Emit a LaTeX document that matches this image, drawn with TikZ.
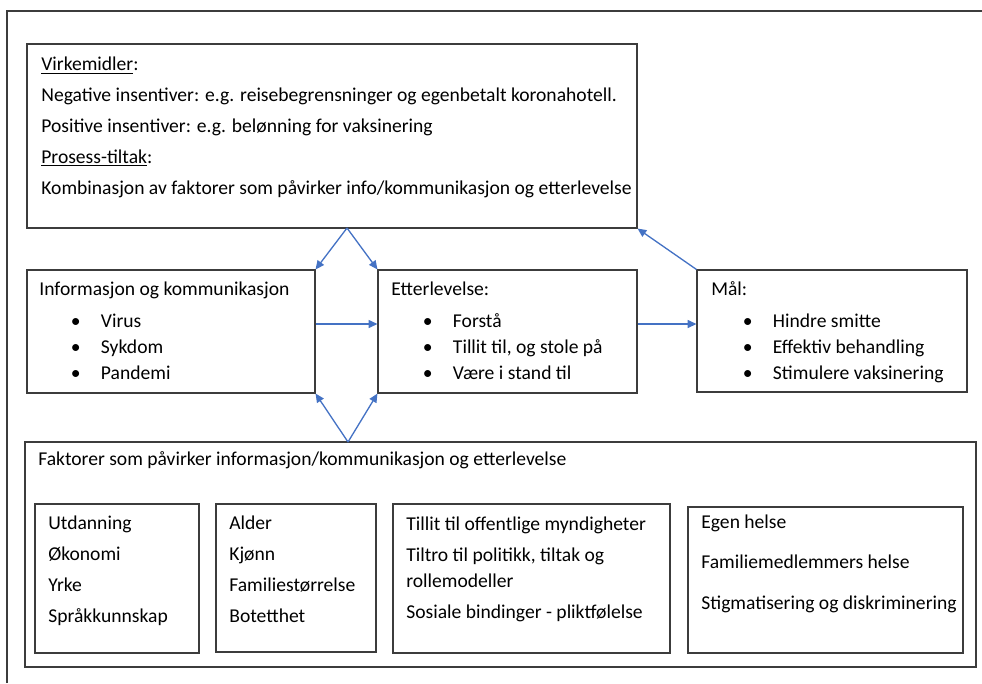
\documentclass[tikz,border=0pt]{standalone}
\usepackage{fontspec}
\setmainfont{Carlito}
\usetikzlibrary{arrows.meta, fit}
\definecolor{arrowblue}{RGB}{68, 114, 196}
\definecolor{framegray}{RGB}{60, 60, 60}
\tikzset{
  box/.style={draw=framegray, line width=0.6pt, inner sep=0pt},
  lines/.style={anchor=base west, align=left, inner sep=0pt, font=\fontsize{11.15}{14.8}\selectfont},
  link/.style={draw=arrowblue, line width=0.75pt, -{Triangle[length=5pt, width=4.5pt]}},
}
\newcommand{\bul}[1]{\hspace*{18pt}\makebox[0.6cm][l]{\textbullet}#1}
\begin{document}
\begin{tikzpicture}[x=0.02cm, y=-0.02cm]
  \useasboundingbox (0,0) rectangle (982,683);
  % outer frame
  \draw[framegray, line width=0.6pt] (7,683) -- (7,11) -- (982,11);

  % Virkemidler (text anchored at its last baseline)
  \node[box, fit={(27,44) (637,228)}] (virk) {};
  \node[lines] (virk-txt) at (41,194) {
    \underline{Virkemidler}:\\[2.8pt]
    Negative insentiver: e.g. reisebegrensninger og egenbetalt koronahotell.\\[2.8pt]
    Positive insentiver: e.g. belønning for vaksinering\\[2.8pt]
    \underline{Prosess-tiltak}:\\[2.8pt]
    Kombinasjon av faktorer som påvirker info/kommunikasjon og etterlevelse
  };

  % middle row
  \node[box, fit={(27,270) (315,393)}] (info) {};
  \node[lines] (info-txt) at (39,379) {
    Informasjon og kommunikasjon\\[3.4pt]
    \bul{Virus}\\
    \bul{Sykdom}\\
    \bul{Pandemi}
  };
  \node[box, fit={(378,270) (637,393)}] (etter) {};
  \node[lines] (etter-txt) at (391,379) {
    Etterlevelse:\\[3.4pt]
    \bul{Forstå}\\
    \bul{Tillit til, og stole på}\\
    \bul{Være i stand til}
  };
  \node[box, fit={(697,270) (967,392)}] (maal) {};
  \node[lines] (maal-txt) at (711,379) {
    Mål:\\[3.4pt]
    \bul{Hindre smitte}\\
    \bul{Effektiv behandling}\\
    \bul{Stimulere vaksinering}
  };

  % Faktorer
  \node[box, fit={(25,442) (976,667)}] (faktor) {};
  \node[lines] (faktor-txt) at (38,465) {Faktorer som påvirker informasjon/kommunikasjon og etterlevelse};
  \node[box, fit={(35,504) (199,653)}] (fak1) {};
  \node[lines] (fak1-txt) at (48,622) {
    Utdanning\\[2.8pt] Økonomi\\[2.8pt] Yrke\\[2.8pt] Språkkunnskap
  };
  \node[box, fit={(216,504) (376,652)}] (fak2) {};
  \node[lines] (fak2-txt) at (229,622) {
    Alder\\[2.8pt] Kjønn\\[2.8pt] Familiestørrelse\\[2.8pt] Botetthet
  };
  \node[box, fit={(393,504) (670,653)}] (fak3) {};
  \node[lines] (fak3-txt) at (406,618) {
    Tillit til offentlige myndigheter\\[2.8pt]
    Tiltro til politikk, tiltak og\\
    rollemodeller\\[2.8pt]
    Sosiale bindinger - pliktfølelse
  };
  \node[box, fit={(688,507) (963,653)}] (fak4) {};
  \node[lines] (fak4-txt) at (701,609) {
    Egen helse\\[8pt]
    Familiemedlemmers helse\\[8pt]
    Stigmatisering og diskriminering
  };

  % arrows
  \coordinate (virk-foot) at (347,228);
  \coordinate (faktor-head) at (348,442);
  \coordinate (midrow) at (0,324);
  \draw[link] (virk-foot) -- (info.north east);
  \draw[link] (virk-foot) -- (etter.north west);
  \draw[link] (faktor-head) -- (info.south east);
  \draw[link] (faktor-head) -- (etter.south west);
  \draw[link] (info.east |- midrow) -- (etter.west |- midrow);
  \draw[link] (etter.east |- midrow) -- (maal.west |- midrow);
  \draw[link] (maal.north west) -- (virk.south east);
\end{tikzpicture}
\end{document}
